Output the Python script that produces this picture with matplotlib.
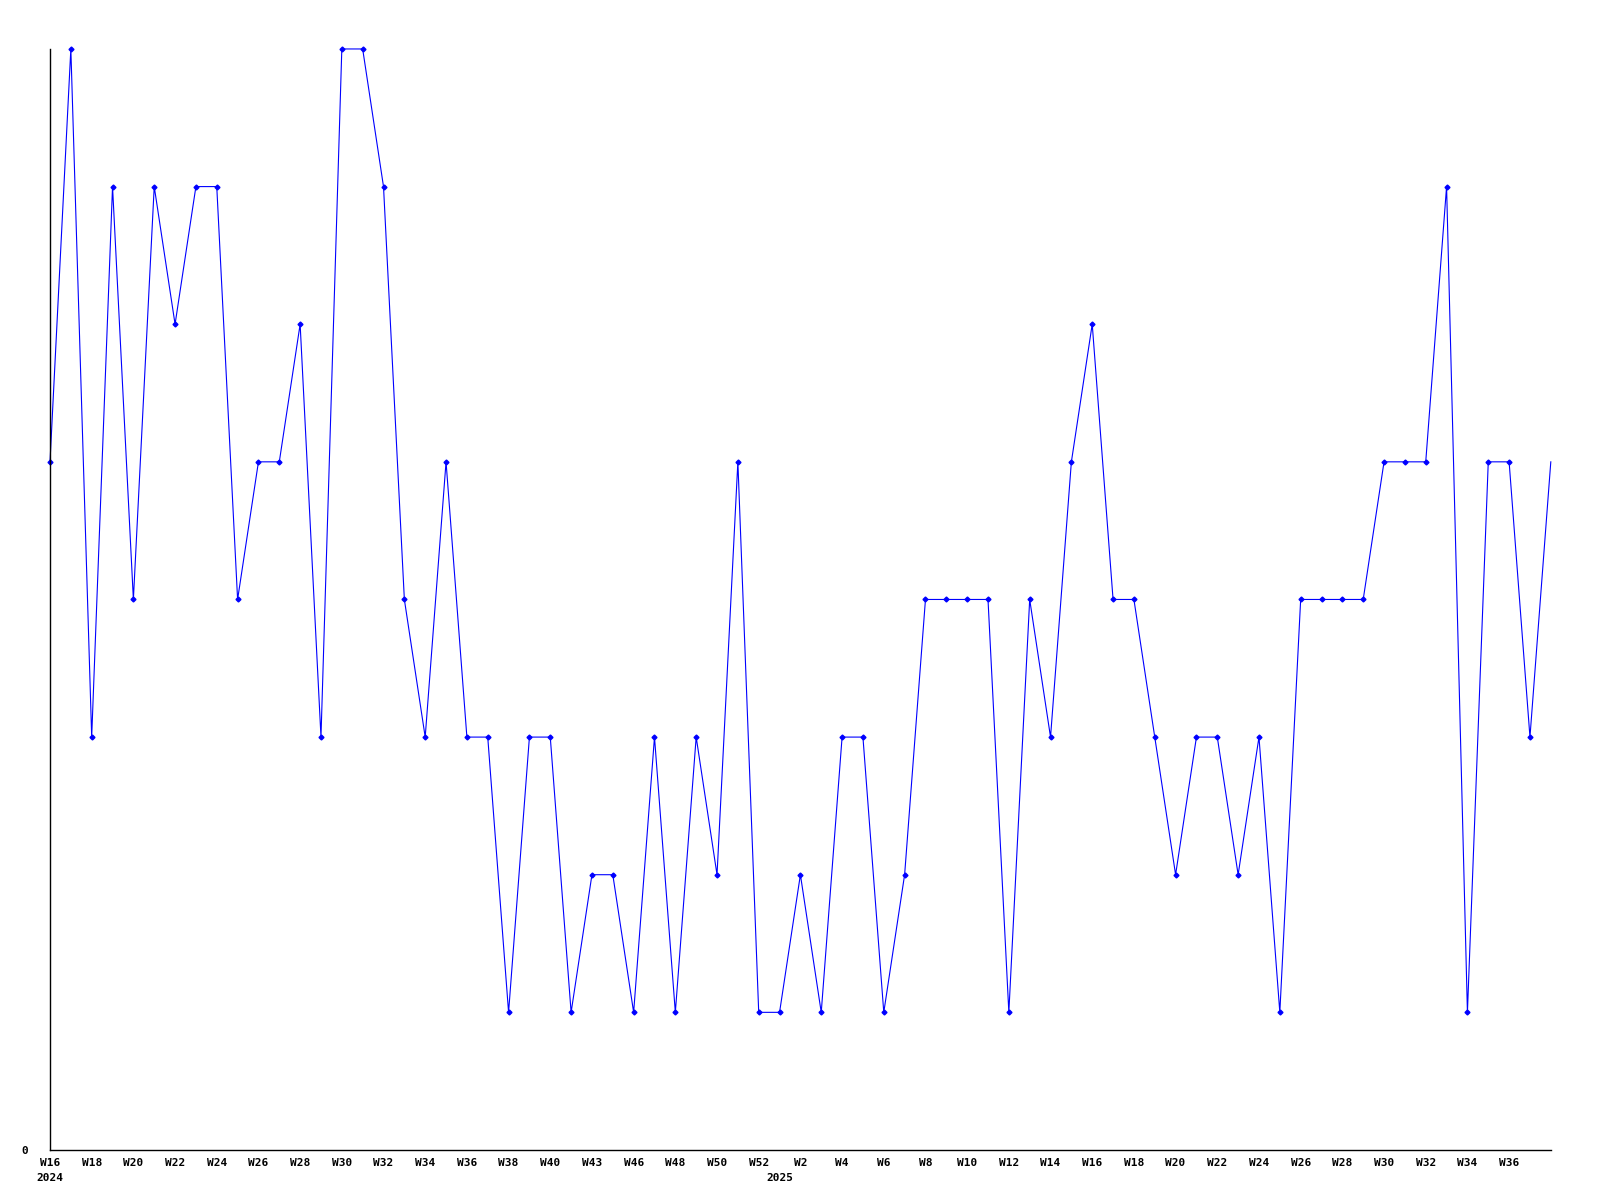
import matplotlib
matplotlib.use('Agg')
import matplotlib.pyplot as plt

# week labels (one per data point)
weeks = ['W16', 'W17', 'W18', 'W19', 'W20', 'W21', 'W22', 'W23', 'W24', 'W25',
         'W26', 'W27', 'W28', 'W29', 'W30', 'W31', 'W32', 'W33', 'W34', 'W35',
         'W36', 'W37', 'W38', 'W39', 'W40', 'W42', 'W43', 'W45', 'W46', 'W47',
         'W48', 'W49', 'W50', 'W51', 'W52', 'W1', 'W2', 'W3', 'W4', 'W5',
         'W6', 'W7', 'W8', 'W9', 'W10', 'W11', 'W12', 'W13', 'W14', 'W15',
         'W16', 'W17', 'W18', 'W19', 'W20', 'W21', 'W22', 'W23', 'W24', 'W25',
         'W26', 'W27', 'W28', 'W29', 'W30', 'W31', 'W32', 'W33', 'W34', 'W35',
         'W36', 'W37', 'W38']
values = [5, 8, 3, 7, 4, 7, 6, 7, 7, 4,
          5, 5, 6, 3, 8, 8, 7, 4, 3, 5,
          3, 3, 1, 3, 3, 1, 2, 2, 1, 3,
          1, 3, 2, 5, 1, 1, 2, 1, 3, 3,
          1, 2, 4, 4, 4, 4, 1, 4, 3, 5,
          6, 4, 4, 3, 2, 3, 3, 2, 3, 1,
          4, 4, 4, 4, 5, 5, 5, 7, 1, 5,
          5, 3, 5]
years = {'2024': 0, '2025': 35}

x = list(range(len(values)))

fig = plt.figure(figsize=(16, 12), dpi=100)
ax = fig.add_axes([0.03125, 0.0417, 0.938, 0.9175])
# last point sits on the axis edge, drawn without a marker
ax.plot(x, values, color='#0000ff', linewidth=0.8, marker='D', markersize=2.5,
        markevery=list(range(len(values) - 1)), clip_on=False)

ax.set_xlim(0, len(values) - 1)
ax.set_ylim(0, 8)
for s in ['top', 'right']:
    ax.spines[s].set_visible(False)
ax.spines['left'].set_linewidth(1.0)
ax.spines['bottom'].set_linewidth(1.0)

font = dict(family='DejaVu Sans Mono', fontweight='bold', fontsize=8)
ticks = x[:-1:2]
ax.set_xticks(ticks)
ax.set_xticklabels([weeks[i] for i in ticks], **font)
ax.set_yticks([0])
ax.set_yticklabels(['0'], **font)
ax.tick_params(length=0, pad=6)
ax.tick_params(axis='y', pad=16)

for yr, i in years.items():
    ax.annotate(yr, xy=(i, 0), xycoords=('data', 'axes fraction'),
                xytext=(0, -20), textcoords='offset points',
                ha='center', va='center', **font)

fig.savefig('out.png', dpi=100)
